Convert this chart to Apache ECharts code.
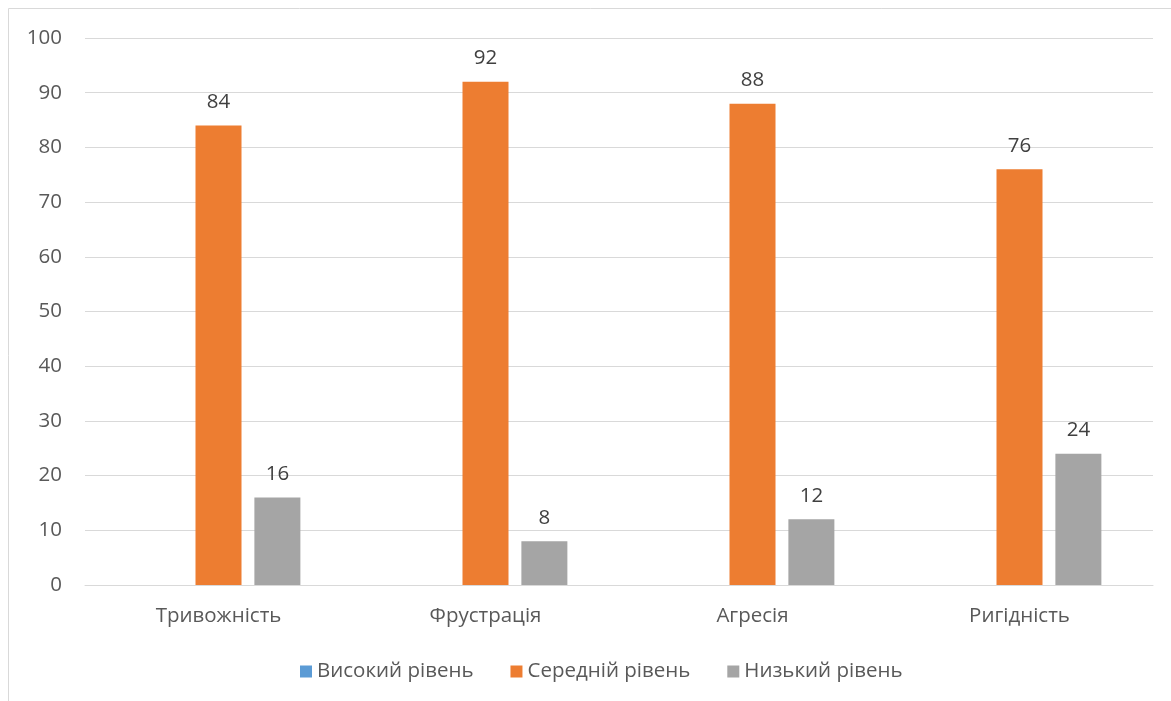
<!DOCTYPE html>
<html>
<head>
<meta charset="utf-8">
<script src="https://cdn.jsdelivr.net/npm/echarts@6/dist/echarts.min.js"></script>
<style>
html, body { margin: 0; padding: 0; background: #fff; }
#chart { width: 1171px; height: 701px; }
</style>
</head>
<body>
<div id="chart"></div>
<script>
var categories = ['Тривожність', 'Фрустрація', 'Агресія', 'Ригідність'];
var highLevel = [0, 0, 0, 0];
var midLevel = [84, 92, 88, 76];
var lowLevel = [16, 8, 12, 24];
var seriesNames = ['Високий рівень', 'Середній рівень', 'Низький рівень'];

var font = "'Open Sans', sans-serif";
var myChart = echarts.init(document.getElementById('chart'));

var labelStyle = {
    show: true,
    position: 'top',
    distance: 13,
    color: '#404040',
    fontSize: 20.5,
    fontFamily: font
};

var option = {
    animation: false,
    color: ['#5B9BD5', '#ED7D31', '#A5A5A5'],
    graphic: [{
        type: 'rect',
        shape: { x: 8.5, y: 8.5, width: 1300, height: 900 },
        style: { fill: 'none', stroke: '#d9d9d9', lineWidth: 1 },
        silent: true
    }],
    grid: { left: 85, right: 18, top: 38, bottom: 116 },
    legend: {
        data: seriesNames,
        left: 295,
        top: 656,
        itemWidth: 12,
        itemHeight: 12,
        itemGap: 37,
        icon: 'rect',
        textStyle: { color: '#595959', fontSize: 20.5, fontFamily: font }
    },
    xAxis: {
        type: 'category',
        data: categories,
        axisTick: { show: false },
        axisLine: { lineStyle: { color: '#d9d9d9', width: 1 } },
        axisLabel: { color: '#595959', fontSize: 20.5, fontFamily: font, margin: 21 }
    },
    yAxis: {
        type: 'value',
        min: 0,
        max: 100,
        interval: 10,
        axisLine: { show: false },
        axisTick: { show: false },
        splitLine: { lineStyle: { color: '#d9d9d9', width: 1 } },
        axisLabel: { color: '#595959', fontSize: 20.5, fontFamily: font, margin: 23 }
    },
    series: [
        { name: seriesNames[0], type: 'bar', data: highLevel, barWidth: 46, barGap: '28%' },
        { name: seriesNames[1], type: 'bar', data: midLevel, barWidth: 46, barGap: '28%', label: labelStyle },
        { name: seriesNames[2], type: 'bar', data: lowLevel, barWidth: 46, barGap: '28%', label: labelStyle }
    ]
};
myChart.setOption(option);
</script>
</body>
</html>
